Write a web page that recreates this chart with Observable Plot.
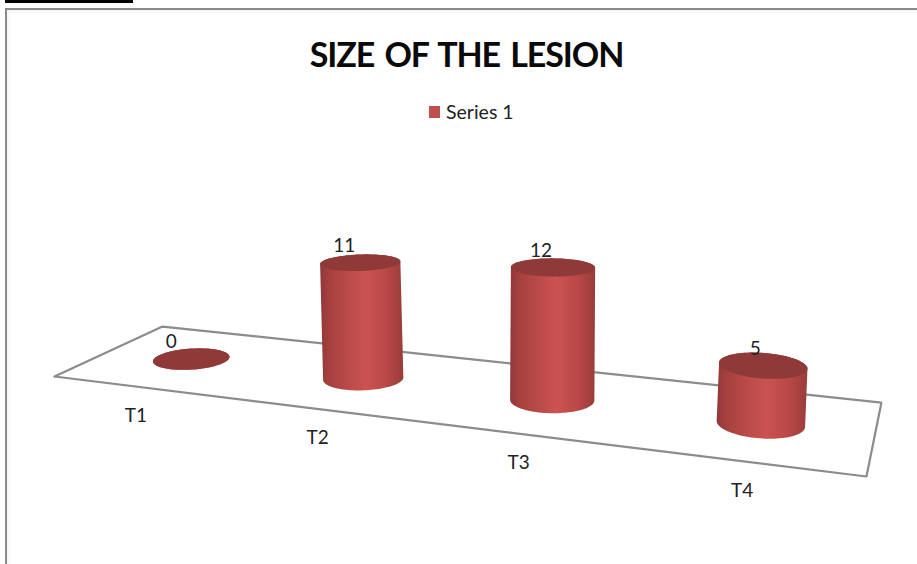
<!DOCTYPE html>
<html>
<head>
<meta charset="utf-8">
<script src="https://cdn.jsdelivr.net/npm/d3@7"></script>
<script src="https://cdn.jsdelivr.net/npm/@observablehq/plot@0.6"></script>
<style>
  html, body { margin: 0; padding: 0; background: #fff; overflow: hidden; }
  body { width: 917px; height: 564px; position: relative; font-family: Lato, "Open Sans", sans-serif; }
  #bar { position: absolute; left: 5px; top: 0; width: 128px; height: 3px; background: #000; }
  #frame { position: absolute; left: 5px; top: 8px; right: 0; bottom: 0; border-top: 2px solid #8a8a8a; border-left: 2px solid #8a8a8a; box-shadow: inset 3px 3px 3px #f6f6f6; }
  #head { position: relative; height: 130px; }
  #title { position: absolute; left: 0; width: 933px; top: 33px; text-align: center; font-size: 34px; line-height: 42px; font-weight: 700; color: #0a0a0a; letter-spacing: -1.1px; word-spacing: 3px; }
  #legend { position: absolute; left: 429px; top: 101px; display: flex; align-items: center; font-size: 19.5px; line-height: 22px; color: #222; }
  #legend i { display: block; width: 11px; height: 12px; background: #c0504d; margin-right: 6px; }
  #chart { position: relative; display: block; }
  #chart svg { display: block; background: transparent; }
</style>
</head>
<body>
<div id="bar"></div>
<div id="frame"></div>
<div id="head">
  <div id="title"></div>
  <div id="legend"><i></i><span id="series"></span></div>
</div>
<div id="chart"></div>
<script>
// Chart values
const titleText = "SIZE OF THE LESION";
const seriesName = "Series 1";
const categories = ["T1", "T2", "T3", "T4"];
const values = [0, 11, 12, 5];

const W = 917, H = 564, headH = 130;

// Perspective of the floor: unit square -> picture plane
const floor = {a: 649.6, b: 129.6, c: 54, d: 10.75, e: -6.5, f: 376, g: -0.1875, h: 0.1333};
function depthW(u, v) { return 1 + floor.g * u + floor.h * v; }
function project(u, v) {
  const w = depthW(u, v);
  return [(floor.a * u + floor.b * v + floor.c) / w, (floor.d * u + floor.e * v + floor.f) / w];
}
const uScale = d3.scaleBand().domain(categories).range([0, 1]);
const uOf = c => uScale(c) + uScale.bandwidth() / 2;
const idx = d3.scaleLinear().domain([0.125, 0.875]).range([0, 3]);

const tiltDeg = d3.scaleLinear().domain([0, 1, 2, 3]).range([-3.7, -2, 0.5, 4.3]);
const flatness = d3.scaleLinear().domain([0, 3]).range([0.274, 0.327]);
const labelDx = d3.scaleLinear().domain([0, 3]).range([-21, -9]);
const unitHeight = 10.5, baseRadius = 40, flatLoss = 0.0078, lean = 0.000168, vanishX = 517;

function ellipsePoint(cx, cy, rx, ry, deg, t) {
  const th = deg * Math.PI / 180;
  return [
    cx + rx * Math.cos(t) * Math.cos(th) - ry * Math.sin(t) * Math.sin(th),
    cy + rx * Math.cos(t) * Math.sin(th) + ry * Math.sin(t) * Math.cos(th)
  ];
}

const shapes = categories.map((c, i) => {
  const value = values[i], u = uOf(c), k = idx(u);
  const [bx, by] = project(u, 0.5);
  const w = depthW(u, 0.5);
  const rx = baseRadius / w;
  const h = value * unitHeight / w;
  const tx = bx + h * (bx - vanishX) * lean;
  const ty = by - h;
  return {c, value, k, bx, by, tx, ty, rx,
    ryB: rx * flatness(k), ryT: rx * (flatness(k) - flatLoss * value), tilt: tiltDeg(k)};
});

const ts = d3.range(0, 49).map(j => j / 48 * Math.PI);
const bodyRows = shapes.flatMap(s => {
  const lower = ts.map(t => ellipsePoint(s.bx, s.by, s.rx, s.ryB, s.tilt, t));
  const upper = ts.map(t => ellipsePoint(s.tx, s.ty, s.rx, s.ryT, s.tilt, t + Math.PI));
  return [...lower, ...upper].map(([x, y]) => ({c: s.c, x, y}));
});
const topRows = shapes.flatMap(s => d3.range(0, 97).map(j => {
  const [x, y] = ellipsePoint(s.tx, s.ty, s.rx, s.ryT, s.tilt, j / 96 * 2 * Math.PI);
  return {c: s.c, x, y};
}));
const floorRows = [[0, 0], [1, 0], [1, 1], [0, 1], [0, 0]].map(([u, v]) => {
  const [x, y] = project(u, v);
  return {x, y};
});
const categoryRows = categories.map(c => {
  const [x, y] = project(uOf(c), 0);
  return {c, x, y};
});
const valueRows = shapes.map(s => ({value: String(s.value), x: s.tx + labelDx(s.k), y: s.ty}));

document.getElementById("title").textContent = titleText;
document.getElementById("series").textContent = seriesName;

const defs = () => {
  const d = d3.create("svg:defs");
  const g = d.append("linearGradient").attr("id", "cyl").attr("x1", 0).attr("x2", 1).attr("y1", 0).attr("y2", 0);
  [[0, "#90383a"], [0.1, "#a5403e"], [0.35, "#bb4b49"], [0.55, "#cb5351"], [0.8, "#b84846"], [1, "#983c3a"]]
    .forEach(([o, col]) => g.append("stop").attr("offset", o).attr("stop-color", col));
  return d.node();
};

const chart = Plot.plot({
  width: W,
  height: H - headH,
  margin: 0,
  x: {type: "linear", domain: [0, W], range: [0, W], axis: null},
  y: {type: "linear", domain: [headH, H], range: [0, H - headH], axis: null},
  style: {background: "transparent", overflow: "visible"},
  marks: [
    defs,
    Plot.line(floorRows, {x: "x", y: "y", stroke: "#8c8c8c", strokeWidth: 2.2, curve: "linear", strokeLinejoin: "miter"}),
    Plot.line(bodyRows, {x: "x", y: "y", z: "c", fill: "url(#cyl)", stroke: "none", curve: "linear", dx: -1}),
    Plot.line(topRows, {x: "x", y: "y", z: "c", fill: "#8f3a38", stroke: "none", curve: "linear", dx: -1}),
    Plot.text(categoryRows, {x: "x", y: "y", text: "c", dx: -3, dy: 29, fontSize: 19, fontFamily: "Lato, sans-serif", fill: "#222"}),
    Plot.text(valueRows, {x: "x", y: "y", text: "value", dy: -17, fontSize: 19, fontFamily: "Lato, sans-serif", fill: "#222"})
  ]
});
document.getElementById("chart").appendChild(chart);
</script>
</body>
</html>
